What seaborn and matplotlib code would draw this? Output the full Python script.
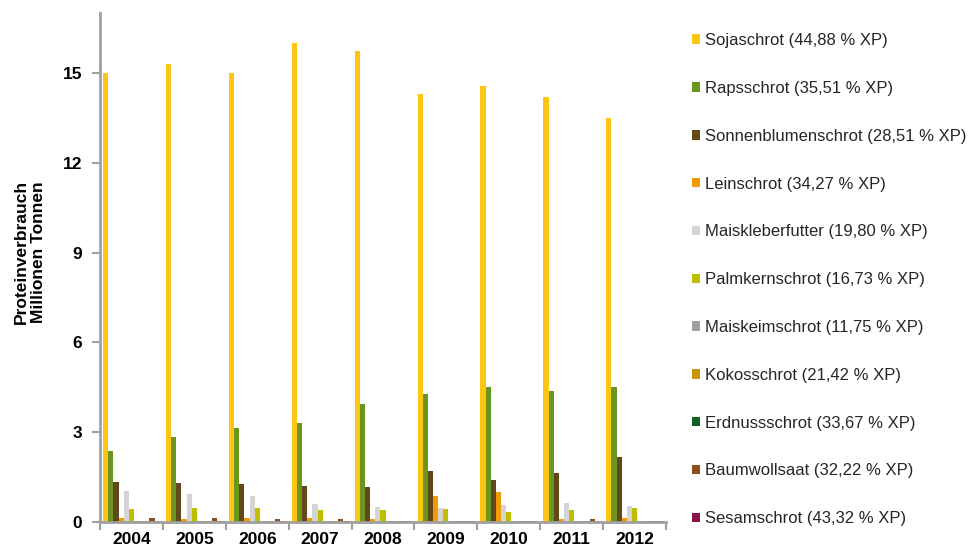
import matplotlib
matplotlib.use("Agg")
import matplotlib.pyplot as plt
import numpy as np
import pandas as pd
import seaborn as sns

years = ["2004", "2005", "2006", "2007", "2008", "2009", "2010", "2011", "2012"]

products = [
    "Sojaschrot (44,88 % XP)",
    "Rapsschrot (35,51 % XP)",
    "Sonnenblumenschrot (28,51 % XP)",
    "Leinschrot (34,27 % XP)",
    "Maiskleberfutter (19,80 % XP)",
    "Palmkernschrot (16,73 % XP)",
    "Maiskeimschrot (11,75 % XP)",
    "Kokosschrot (21,42 % XP)",
    "Erdnussschrot (33,67 % XP)",
    "Baumwollsaat (32,22 % XP)",
    "Sesamschrot (43,32 % XP)",
]

# Protein consumption in million tonnes, one list per feed component (2004-2012)
soja = [15.0, 15.3, 15.0, 16.0, 15.73, 14.3, 14.56, 14.2, 13.5]
raps = [2.37, 2.85, 3.15, 3.31, 3.95, 4.29, 4.52, 4.39, 4.52]
sonnenblumen = [1.35, 1.31, 1.27, 1.20, 1.18, 1.71, 1.41, 1.65, 2.18]
lein = [0.15, 0.11, 0.14, 0.14, 0.11, 0.87, 1.01, 0.11, 0.14]
maiskleber = [1.05, 0.93, 0.87, 0.61, 0.51, 0.48, 0.58, 0.64, 0.54]
palmkern = [0.43, 0.48, 0.48, 0.41, 0.41, 0.44, 0.33, 0.41, 0.48]
maiskeim = [0.04, 0.04, 0.04, 0.04, 0.04, 0.04, 0.04, 0.04, 0.04]
kokos = [0.05, 0.05, 0.05, 0.05, 0.05, 0.05, 0.05, 0.05, 0.05]
erdnuss = [0.05, 0.05, 0.05, 0.05, 0.05, 0.05, 0.05, 0.05, 0.05]
baumwolle = [0.14, 0.14, 0.11, 0.11, 0.05, 0.05, 0.05, 0.11, 0.05]
sesam = [0.04, 0.04, 0.04, 0.04, 0.04, 0.04, 0.04, 0.04, 0.04]

series = [soja, raps, sonnenblumen, lein, maiskleber, palmkern,
          maiskeim, kokos, erdnuss, baumwolle, sesam]

colors = ["#FDC613", "#6B961E", "#614719", "#F29B05", "#D4D4D4", "#BFBF00",
          "#A0A0A0", "#C8960A", "#0E6426", "#8B4E1E", "#8B1546"]

rows = []
for name, vals in zip(products, series):
    for y, v in zip(years, vals):
        rows.append({"Jahr": y, "Produkt": name, "Wert": v})
df = pd.DataFrame(rows)

sns.set_theme(style="white")
plt.rcParams["font.family"] = ["Liberation Sans", "DejaVu Sans"]

fig = plt.figure(figsize=(9.68, 5.5), dpi=100)
ax = fig.add_axes([100 / 968, 28 / 550, 566 / 968, 509 / 550])

sns.barplot(data=df, x="Jahr", y="Wert", hue="Produkt", order=years,
            hue_order=products, palette=colors, width=0.9, saturation=1,
            linewidth=0, errorbar=None, ax=ax)

ax.set_ylim(0, 17)
ax.set_xlim(-0.5, len(years) - 0.5)
ax.set_yticks([0, 3, 6, 9, 12, 15])

spine_col = "#A0A0A0"
for side in ["top", "right"]:
    ax.spines[side].set_visible(False)
for side in ["left", "bottom"]:
    ax.spines[side].set_color(spine_col)
    ax.spines[side].set_linewidth(2)

ax.tick_params(axis="y", which="major", direction="out", length=6, width=1.5,
               color=spine_col, left=True, pad=7, labelsize=12.5)
ax.tick_params(axis="x", which="major", length=0, pad=7, labelsize=12.5)
ax.set_xticks(np.arange(-0.5, len(years) + 0.5, 1.0), minor=True)
ax.tick_params(axis="x", which="minor", direction="out", length=6, width=1.5,
               color=spine_col, bottom=True)
for lbl in ax.get_xticklabels() + ax.get_yticklabels():
    lbl.set_fontweight("bold")
    lbl.set_color("black")

ax.set_xlabel("")
ax.set_ylabel("")
fig.text(30 / 968, 1 - 252 / 550, "Proteinverbrauch\nMillionen Tonnen",
         rotation=90, ha="center", va="center", fontsize=12.5,
         fontweight="bold", color="black", linespacing=1.2)

handles, labels = ax.get_legend_handles_labels()
if ax.legend_:
    ax.legend_.remove()
fig.legend(handles, labels, loc="upper left",
           bbox_to_anchor=(692 / 968, 1 - 33 / 550),
           frameon=False, fontsize=12, labelspacing=1.97, handlelength=0.5,
           handleheight=0.5, handletextpad=0.3, borderpad=0, borderaxespad=0)

fig.savefig("out.png", dpi=100)
